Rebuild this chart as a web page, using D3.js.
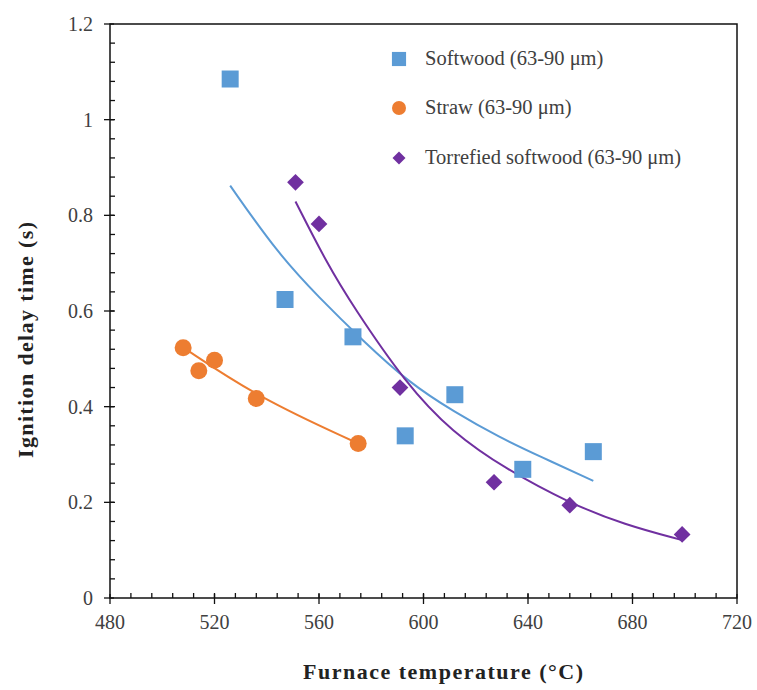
<!DOCTYPE html>
<html>
<head>
<meta charset="utf-8">
<script src="https://cdn.jsdelivr.net/npm/d3@7"></script>
<style>
  body { margin: 0; background: #fff; }
  svg text { font-family: "Liberation Serif", "DejaVu Serif", serif; fill: #404040; }
</style>
</head>
<body>
<svg width="757" height="690"></svg>
<script>
// measured points
var softwoodX = [526, 547, 573, 593, 612, 638, 665];
var softwoodY = [1.085, 0.624, 0.546, 0.339, 0.425, 0.269, 0.306];
var strawX = [508, 514, 520, 536, 575];
var strawY = [0.523, 0.475, 0.497, 0.417, 0.323];
var torrX = [551, 560, 591, 627, 656, 699];
var torrY = [0.869, 0.782, 0.440, 0.242, 0.194, 0.133];

// trend lines
var softTrendX = [526, 544, 560, 577, 594, 612, 629, 645, 665];
var softTrendY = [0.862, 0.722, 0.628, 0.537, 0.452, 0.388, 0.336, 0.295, 0.245];
var strawTrendX = [508, 537, 575];
var strawTrendY = [0.524, 0.418, 0.323];
var torrTrendX = [551, 563, 573, 593, 611, 632, 656, 677, 699];
var torrTrendY = [0.829, 0.700, 0.610, 0.450, 0.346, 0.268, 0.198, 0.153, 0.121];

var xTicks = [480, 520, 560, 600, 640, 680, 720];
var yTicks = [0, 0.2, 0.4, 0.6, 0.8, 1, 1.2];
var legendLabels = ["Softwood (63-90 \u03bcm)", "Straw (63-90 \u03bcm)", "Torrefied softwood (63-90 \u03bcm)"];

var blue = "#5b9bd5", orange = "#ed7d31", purple = "#7030a0";

var svg = d3.select("svg");
var pl = 110, pr = 737, pt = 24, pb = 598;

var x = d3.scaleLinear().domain([480, 720]).range([pl, pr]);
var y = d3.scaleLinear().domain([0, 1.2]).range([pb, pt]);

// frame
svg.append("rect")
    .attr("x", pl).attr("y", pt)
    .attr("width", pr - pl).attr("height", pb - pt)
    .attr("fill", "none").attr("stroke", "#111").attr("stroke-width", 1.5);

// minor ticks (inside)
var g = svg.append("g").attr("stroke", "#111").attr("stroke-width", 1.3);
g.selectAll(".mx").data(d3.range(488, 720, 8)).enter().append("line")
    .attr("x1", function(d) { return x(d); }).attr("x2", function(d) { return x(d); })
    .attr("y1", pb).attr("y2", pb - 5);
g.selectAll(".my").data(d3.range(0.04, 1.19, 0.04)).enter().append("line")
    .attr("y1", function(d) { return y(d); }).attr("y2", function(d) { return y(d); })
    .attr("x1", pl).attr("x2", pl + 5);

// major ticks (cross)
g.selectAll(".Mx").data(xTicks).enter().append("line")
    .attr("x1", function(d) { return x(d); }).attr("x2", function(d) { return x(d); })
    .attr("y1", pb - 4).attr("y2", pb + 6);
g.selectAll(".My").data(yTicks).enter().append("line")
    .attr("y1", function(d) { return y(d); }).attr("y2", function(d) { return y(d); })
    .attr("x1", pl - 6).attr("x2", pl + 4);

// tick labels
svg.append("g").selectAll("text").data(xTicks).enter().append("text")
    .attr("x", function(d) { return x(d); })
    .attr("y", 629)
    .attr("text-anchor", "middle")
    .style("font-size", "20px")
    .text(function(d) { return d; });
svg.append("g").selectAll("text").data(yTicks).enter().append("text")
    .attr("x", 93)
    .attr("y", function(d) { return y(d) + 7; })
    .attr("text-anchor", "end")
    .style("font-size", "20px")
    .text(function(d) { return d; });

// axis titles
svg.append("text")
    .attr("x", 303).attr("y", 679)
    .attr("textLength", 280).attr("lengthAdjust", "spacing")
    .style("font-size", "22px").style("font-weight", "bold").style("fill", "#222")
    .text("Furnace temperature (\u00b0C)");
svg.append("text")
    .attr("transform", "translate(33,458) rotate(-90)")
    .attr("textLength", 236).attr("lengthAdjust", "spacing")
    .style("font-size", "22px").style("font-weight", "bold").style("fill", "#222")
    .text("Ignition delay time (s)");

// trend lines
var line = d3.line()
    .x(function(d) { return x(d[0]); })
    .y(function(d) { return y(d[1]); })
    .curve(d3.curveBasis);

function trend(xs, ys, color) {
  svg.append("path")
      .datum(d3.zip(xs, ys))
      .attr("d", line)
      .attr("fill", "none")
      .attr("stroke", color)
      .attr("stroke-width", 2);
}
trend(strawTrendX, strawTrendY, orange);
trend(softTrendX, softTrendY, blue);
trend(torrTrendX, torrTrendY, purple);

// markers
var sq = d3.symbol().type(d3.symbolSquare).size(289);
var dia = d3.symbol().type(d3.symbolSquare).size(140);

svg.append("g").selectAll("path").data(d3.zip(softwoodX, softwoodY)).enter().append("path")
    .attr("d", sq)
    .attr("transform", function(d) { return "translate(" + x(d[0]) + "," + y(d[1]) + ")"; })
    .attr("fill", blue);
svg.append("g").selectAll("circle").data(d3.zip(strawX, strawY)).enter().append("circle")
    .attr("cx", function(d) { return x(d[0]); })
    .attr("cy", function(d) { return y(d[1]); })
    .attr("r", 8.5)
    .attr("fill", orange);
svg.append("g").selectAll("path").data(d3.zip(torrX, torrY)).enter().append("path")
    .attr("d", dia)
    .attr("transform", function(d) { return "translate(" + x(d[0]) + "," + y(d[1]) + ") rotate(45)"; })
    .attr("fill", purple);

// legend
var leg = svg.append("g");
var ly = [59, 108, 158];
leg.append("path").attr("d", d3.symbol().type(d3.symbolSquare).size(200))
    .attr("transform", "translate(399," + ly[0] + ")").attr("fill", blue);
leg.append("circle").attr("cx", 399).attr("cy", ly[1]).attr("r", 7).attr("fill", orange);
leg.append("path").attr("d", d3.symbol().type(d3.symbolSquare).size(85))
    .attr("transform", "translate(399," + ly[2] + ") rotate(45)").attr("fill", purple);
leg.selectAll("text").data(legendLabels).enter().append("text")
    .attr("x", 425)
    .attr("y", function(d, i) { return ly[i] + 6; })
    .style("font-size", "20.5px")
    .text(function(d) { return d; });
</script>
</body>
</html>
